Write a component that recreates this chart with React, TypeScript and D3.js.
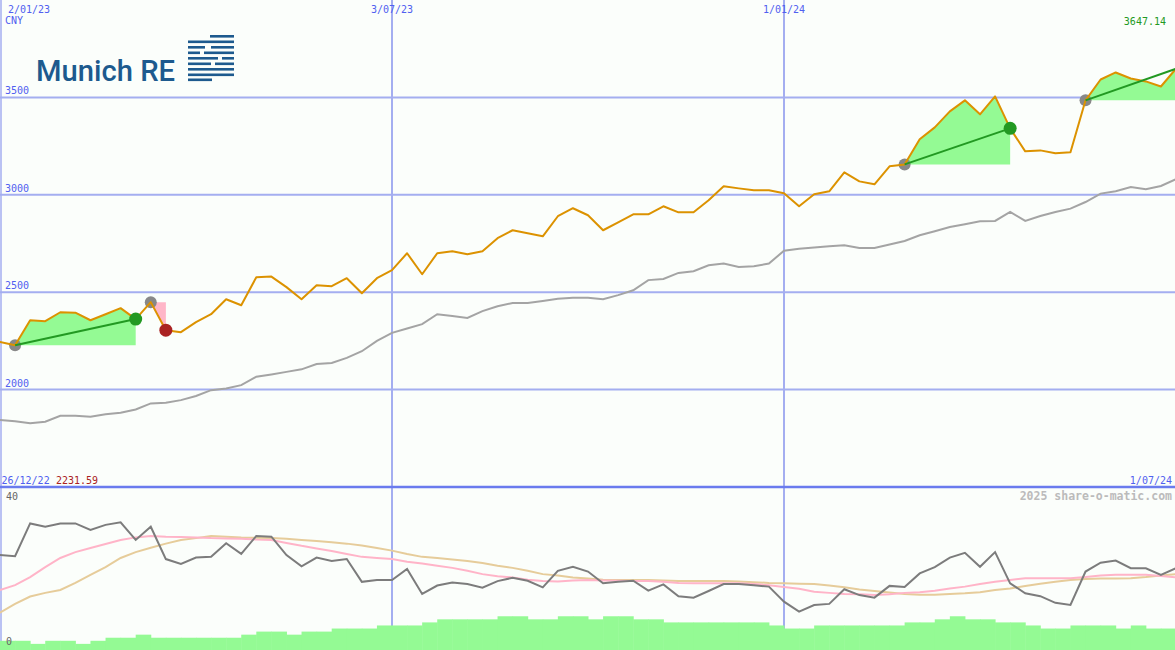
import React from "react";
import * as d3 from "d3";

// ---- data (weekly, Mondays, starting 26/12/22) ----
const startDate = new Date(2022, 11, 26);

const prices = [
  2231.59, 2244, 2228, 2356, 2351, 2397, 2395, 2356, 2387, 2418, 2362, 2449, 2305, 2295, 2346, 2387,
  2464, 2433, 2577, 2580, 2526, 2464, 2536, 2531, 2572, 2495, 2572, 2613, 2700, 2592, 2700, 2710,
  2695, 2710, 2777, 2818, 2803, 2787, 2890, 2931, 2895, 2818, 2859, 2900, 2900, 2941, 2910, 2910,
  2972, 3044, 3033, 3023, 3023, 3008, 2941, 3003, 3018, 3115, 3069, 3054, 3146, 3156, 3285, 3346,
  3428, 3485, 3413, 3505, 3341, 3223, 3228, 3213, 3218, 3485, 3592, 3628, 3597, 3582, 3556, 3647.14,
];

const movingAvg = [
  1850,
  1844, 1838, 1827, 1835, 1866, 1866, 1861, 1874, 1881, 1898,
  1929, 1932, 1946, 1967, 1997, 2006, 2023, 2066, 2078, 2091,
  2104, 2131, 2137, 2163, 2197, 2250, 2291, 2314, 2336, 2387,
  2378, 2368, 2403, 2428, 2445, 2445, 2455, 2466, 2471, 2471,
  2464, 2485, 2510, 2562, 2568, 2599, 2608, 2638, 2647, 2630,
  2633, 2647, 2713, 2723, 2729, 2736, 2741, 2727, 2727, 2745,
  2763, 2792, 2813, 2835, 2849, 2864, 2866, 2912, 2866, 2891,
  2912, 2929, 2963, 3006, 3018, 3040, 3028, 3045, 3080,
];

const oscillator = [
  25,
  25.3, 25.0, 33.9, 33.0, 33.9, 33.9, 32.1, 33.5, 34.2, 29.4,
  33.0, 24.2, 22.9, 24.6, 24.8, 28.5, 25.6, 30.5, 30.3, 25.3,
  22.2, 24.6, 23.7, 24.2, 18.0, 18.5, 18.5, 21.5, 14.7, 17.0,
  17.8, 17.4, 16.4, 18.2, 19.1, 18.3, 16.5, 21.0, 22.1, 20.8,
  17.6, 18.0, 18.3, 15.6, 17.3, 14.1, 13.7, 15.5, 17.4, 17.4,
  17.1, 16.7, 12.6, 9.9, 11.7, 12.0, 16.0, 14.4, 13.7, 16.9,
  16.6, 20.3, 22.0, 24.6, 25.9, 22.1, 26.1, 17.6, 14.9, 14.1,
  12.3, 11.7, 20.8, 23.2, 23.8, 21.7, 21.7, 19.9, 21.7,
];

const oscFast = [
  14.5,
  15.8, 17.1, 19.3, 22.0, 24.5, 26.1, 27.2, 28.3, 29.4, 30.1,
  30.5, 30.3, 30.2, 30.1, 29.9, 29.8, 29.7, 29.5, 29.4, 28.6,
  27.8, 27.1, 26.4, 25.6, 24.8, 24.5, 24.2, 23.5, 23.0, 22.4,
  21.8, 21.0, 20.1, 19.5, 19.2, 18.6, 18.2, 18.1, 18.4, 18.5,
  18.4, 18.3, 18.2, 18.2, 18.0, 17.7, 17.6, 17.6, 17.6, 17.6,
  17.4, 17.1, 16.6, 16.1, 15.3, 15.0, 14.7, 14.6, 14.4, 14.6,
  15.0, 15.2, 15.6, 16.2, 16.7, 17.4, 18.0, 18.5, 19.0, 19.0,
  19.0, 19.0, 19.3, 19.7, 19.9, 19.9, 19.9, 19.6, 19.2,
];

const oscSlow = [
  8.0,
  9.6, 12.0, 14.0, 15.0, 15.8, 17.7, 19.9, 22.0, 24.5, 26.1,
  27.3, 28.4, 29.4, 29.9, 30.5, 30.3, 30.1, 30.0, 29.9, 29.7,
  29.4, 29.1, 28.8, 28.4, 27.9, 27.2, 26.5, 25.6, 24.8, 24.5,
  24.1, 23.7, 23.1, 22.4, 21.8, 21.0, 20.1, 19.7, 19.2, 18.9,
  18.6, 18.5, 18.5, 18.5, 18.4, 18.2, 18.2, 18.2, 18.2, 18.1,
  17.9, 17.7, 17.6, 17.5, 17.4, 17.0, 16.5, 15.9, 15.5, 15.1,
  14.7, 14.5, 14.5, 14.7, 14.9, 15.2, 15.8, 16.2, 16.9, 17.5,
  18.0, 18.5, 18.8, 18.9, 18.9, 19.0, 19.3, 19.7, 20.1,
];

const volume = [
  3,
  3, 3, 2, 3, 3, 2, 3, 4, 4, 5,
  4, 4, 4, 4, 4, 4, 5, 6, 6, 5,
  6, 6, 7, 7, 7, 8, 8, 8, 9, 10,
  10, 10, 10, 11, 11, 10, 10, 11, 11, 10,
  11, 11, 10, 10, 9, 9, 9, 9, 9, 9,
  9, 8, 7, 7, 8, 8, 8, 8, 8, 8,
  9, 9, 10, 11, 10, 10, 9, 9, 8, 7,
  7, 8, 8, 8, 7, 8, 7, 7, 7,
];

// signals: index into the weekly arrays
const signalStart = [2, 11, 61, 73];
const signalEnd = [10, 12, 68, 79];
const signalKind = ["up", "down", "up", "up-open"];

const priceGrid = [2000, 2500, 3000, 3500];
const dateTicks = [new Date(2023, 0, 2), new Date(2023, 6, 3), new Date(2024, 0, 1)];
const dateTickLabels = ["2/01/23", "3/07/23", "1/01/24"];

const W = 1175;
const H = 650;
const MAIN_BOTTOM = 487;

const BLUE_TXT = "#5060f0";
const GRID = "#a4aef0";
const MONO = "'DejaVu Sans Mono', 'Liberation Mono', monospace";

export default function App() {
  const dates = prices.map((_, i) => d3.timeDay.offset(startDate, 7 * i));
  const x = d3.scaleTime().domain([new Date(2023, 0, 2), new Date(2024, 6, 1)]).range([0, 1176]);
  const y = d3.scaleLinear().domain([1500, 4000]).range([MAIN_BOTTOM, 0]);
  const yo = d3.scaleLinear().domain([0, 40]).range([648, 501]);
  const yv = d3.scaleLinear().domain([0, 12]).range([650, 613.2]);

  const lineOf = (vals: number[], ys: d3.ScaleLinear<number, number>) =>
    d3.line<number>().x((_, i) => x(dates[i])).y((v) => ys(v))(vals) || "";

  const signals = signalStart.map((s, j) => {
    const e = signalEnd[j];
    const idx = d3.range(s, e + 1);
    const base = prices[s];
    const area = d3
      .area<number>()
      .x((i) => x(dates[i]))
      .y0(y(base))
      .y1((i) => y(prices[i]))(idx) || "";
    return { s, e, kind: signalKind[j], area };
  });

  const stripes = [
    [210, 35, 24], [188, 40.5, 46], [188, 46, 17], [211, 46, 23], [188, 51.5, 12], [204, 51.5, 30],
    [188, 57, 30], [222, 57, 12], [188, 62.5, 23], [215, 62.5, 19], [188, 68, 46], [188, 73.5, 46], [188, 78.5, 24],
  ];

  return (
    <svg
      width={W}
      height={H}
      style={{ position: "absolute", left: 0, top: 0, display: "block" }}
      xmlns="http://www.w3.org/2000/svg"
    >
      <rect x={0} y={0} width={W} height={H} fill="#fbfefb" />

      {/* vertical gridlines */}
      <line x1={1} x2={1} y1={0} y2={H} stroke={GRID} strokeWidth={1.5} />
      {dateTicks.slice(1).map((d, i) => (
        <line key={i} x1={x(d)} x2={x(d)} y1={0} y2={H} stroke={GRID} strokeWidth={2} />
      ))}

      {/* horizontal gridlines */}
      {priceGrid.map((v) => (
        <line key={v} x1={0} x2={W} y1={y(v)} y2={y(v)} stroke={GRID} strokeWidth={2} />
      ))}

      {/* signal fills */}
      {signals.map((s, j) => (
        <path key={j} d={s.area} fill={s.kind === "down" ? "#ffb6c8" : "#94fa94"} />
      ))}

      {/* moving average */}
      <path d={lineOf(movingAvg, y)} fill="none" stroke="#a4a4a4" strokeWidth={2} />

      {/* start circles */}
      {signals.map((s, j) => (
        <circle key={j} cx={x(dates[s.s])} cy={y(prices[s.s])} r={6} fill="#888888" />
      ))}

      {/* price */}
      <path d={lineOf(prices, y)} fill="none" stroke="#dc9200" strokeWidth={2} strokeLinejoin="round" />

      {/* trend lines */}
      {signals
        .filter((s) => s.kind !== "down")
        .map((s, j) => (
          <line
            key={j}
            x1={x(dates[s.s])}
            y1={y(prices[s.s])}
            x2={x(dates[s.e])}
            y2={y(prices[s.e])}
            stroke="#229922"
            strokeWidth={2}
          />
        ))}

      {/* end circles */}
      {signals
        .filter((s) => s.kind !== "up-open")
        .map((s, j) => (
          <circle
            key={j}
            cx={x(dates[s.e])}
            cy={y(prices[s.e])}
            r={6.5}
            fill={s.kind === "down" ? "#aa2222" : "#229922"}
          />
        ))}

      {/* panel divider */}
      <line x1={0} x2={W} y1={MAIN_BOTTOM} y2={MAIN_BOTTOM} stroke="#6a7bee" strokeWidth={2.5} />

      {/* lower panel */}
      <path d={lineOf(oscSlow, yo)} fill="none" stroke="#e6cc9a" strokeWidth={2} />
      <path d={lineOf(oscFast, yo)} fill="none" stroke="#ffb4c8" strokeWidth={2} />
      <path d={lineOf(oscillator, yo)} fill="none" stroke="#7c7c7c" strokeWidth={2} />

      {volume.map((v, i) => {
        const x0 = x(dates[i]);
        const x1 = i + 1 < dates.length ? x(dates[i + 1]) : x0 + 15.1;
        return <rect key={i} x={x0} y={yv(v)} width={x1 - x0 + 0.5} height={650 - yv(v)} fill="#94fa94" />;
      })}

      {/* logo */}
      <text
        x={36}
        y={81}
        fontFamily="Roboto, 'Liberation Sans', sans-serif"
        fontWeight={500}
        fontSize={30}
        fill="#1d5a8e"
        textLength={139}
        lengthAdjust="spacingAndGlyphs"
      >
        Munich RE
      </text>
      {stripes.map(([sx, sy, sw], i) => (
        <rect key={i} x={sx} y={sy} width={sw} height={2.6} fill="#1d5a8e" />
      ))}

      {/* texts */}
      <g fontFamily={MONO} fontSize={10} fill={BLUE_TXT}>
        <text x={8} y={12.5}>{dateTickLabels[0]}</text>
        {dateTicks.slice(1).map((d, i) => (
          <text key={i} x={x(d)} y={12.5} textAnchor="middle">
            {dateTickLabels[i + 1]}
          </text>
        ))}
        <text x={5} y={24}>CNY</text>
        {priceGrid.map((v) => (
          <text key={v} x={5} y={y(v) - 3}>
            {v}
          </text>
        ))}
        <text x={1.5} y={483.5}>26/12/22</text>
        <text x={1172} y={483.5} textAnchor="end">1/07/24</text>
      </g>
      <text x={56} y={483.5} fontFamily={MONO} fontSize={10} fill="#aa2222">
        {prices[0].toFixed(2)}
      </text>
      <text x={1166} y={25} fontFamily={MONO} fontSize={10} fill="#229922" textAnchor="end">
        {prices[prices.length - 1].toFixed(2)}
      </text>
      <text x={1172} y={500} fontFamily={MONO} fontSize={11.5} fontWeight="bold" fill="#bbbbbb" textAnchor="end">
        2025 share-o-matic.com
      </text>
      <text x={6} y={499.5} fontFamily={MONO} fontSize={10} fill="#666666">40</text>
      <text x={6} y={645} fontFamily={MONO} fontSize={10} fill="#666666">0</text>
    </svg>
  );
}
